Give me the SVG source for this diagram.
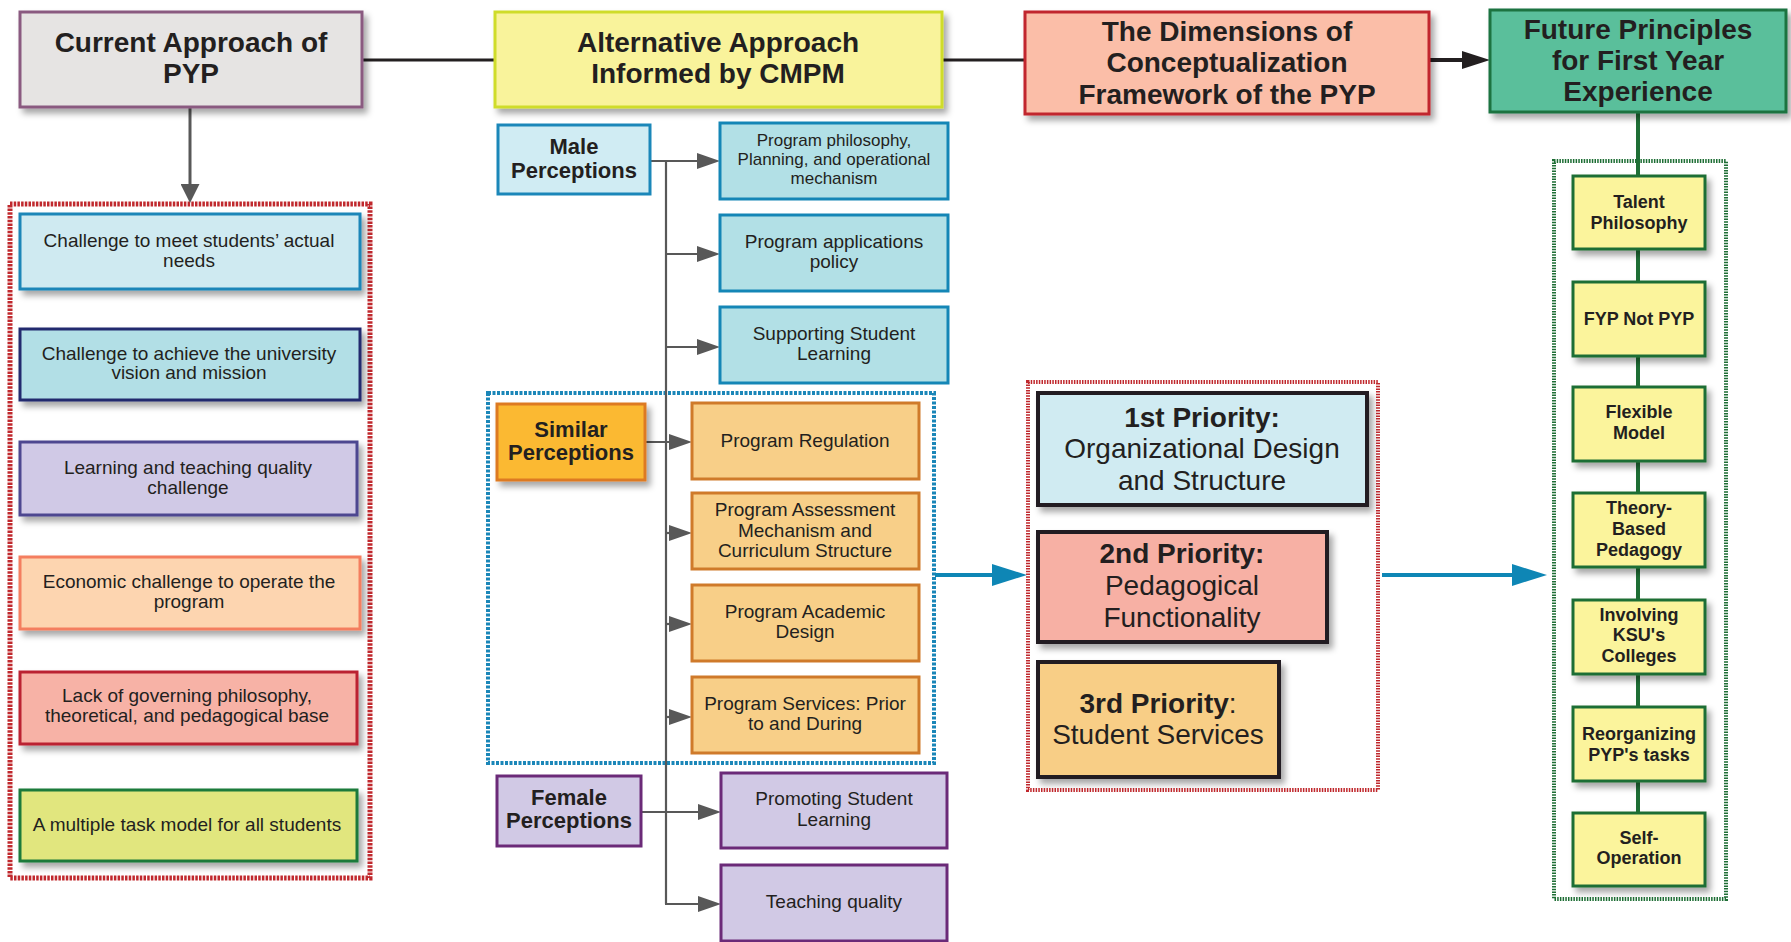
<svg xmlns="http://www.w3.org/2000/svg" width="1791" height="942" viewBox="0 0 1791 942">
<style>
text{font-family:"Liberation Sans",Arial,sans-serif;fill:#231f20;text-anchor:middle}
.t{font-size:28px;font-weight:bold}
.n{font-size:19px}
.s{font-size:17px}
.b{font-size:22px;font-weight:bold}
.r{font-size:18px;font-weight:bold}
.p{font-size:28px}
.box{stroke-width:3}
.pri{stroke:#231f20;stroke-width:4}
.gray{stroke:#585858;stroke-width:2.2;fill:none}
</style>
<defs>
<filter id="sh" x="-10%" y="-10%" width="130%" height="140%">
<feDropShadow dx="4" dy="5" stdDeviation="3" flood-color="#000" flood-opacity="0.35"/>
</filter>
<marker id="ag" markerUnits="userSpaceOnUse" markerWidth="23" markerHeight="16" refX="11" refY="8" orient="auto">
<path d="M0,0 L23,8 L0,16 z" fill="#585858"/>
</marker>
<marker id="ag2" markerUnits="userSpaceOnUse" markerWidth="19" markerHeight="19" refX="9" refY="9.5" orient="auto">
<path d="M0,0 L19,9.5 L0,19 z" fill="#585858"/>
</marker>
<marker id="ab" markerUnits="userSpaceOnUse" markerWidth="35" markerHeight="22" refX="18" refY="11" orient="auto">
<path d="M0,0 L35,11 L0,22 z" fill="#0e86b5"/>
</marker>
<marker id="ak" markerUnits="userSpaceOnUse" markerWidth="28" markerHeight="18" refX="14" refY="9" orient="auto">
<path d="M0,0 L28,9 L0,18 z" fill="#231f20"/>
</marker>
</defs>
<rect width="1791" height="942" fill="#fff"/>

<g id="containers" fill="none">
<rect x="10" y="204" width="360" height="674" stroke="#c0282d" stroke-width="5" stroke-dasharray="2.5 1.2"/>
<rect x="488" y="393" width="446" height="370" stroke="#1a86b8" stroke-width="4" stroke-dasharray="3 1.5"/>
<rect x="1028" y="382" width="350" height="408" stroke="#c0282d" stroke-width="4" stroke-dasharray="1.5 1.2"/>
<rect x="1554" y="161" width="172" height="738" stroke="#1e6e35" stroke-width="4" stroke-dasharray="1.5 1.2"/>
</g>

<g id="connectors">
<line x1="362" y1="60" x2="495" y2="60" stroke="#231f20" stroke-width="3"/>
<line x1="942" y1="60" x2="1025" y2="60" stroke="#231f20" stroke-width="3"/>
<line x1="1429" y1="60" x2="1476" y2="60" stroke="#231f20" stroke-width="4" marker-end="url(#ak)"/>
<line x1="190" y1="107" x2="190" y2="193" stroke="#585858" stroke-width="3" marker-end="url(#ag2)"/>
<line x1="1638" y1="112" x2="1638" y2="813" stroke="#1e6e35" stroke-width="4"/>
<path class="gray" d="M666,161 V904"/>
<line class="gray" x1="650" y1="161" x2="708" y2="161" marker-end="url(#ag)"/>
<line class="gray" x1="666" y1="254" x2="708" y2="254" marker-end="url(#ag)"/>
<line class="gray" x1="666" y1="347" x2="708" y2="347" marker-end="url(#ag)"/>
<line class="gray" x1="645" y1="442" x2="680" y2="442" marker-end="url(#ag)"/>
<line class="gray" x1="666" y1="533" x2="680" y2="533" marker-end="url(#ag)"/>
<line class="gray" x1="666" y1="624" x2="680" y2="624" marker-end="url(#ag)"/>
<line class="gray" x1="666" y1="717" x2="680" y2="717" marker-end="url(#ag)"/>
<line class="gray" x1="641" y1="812" x2="709" y2="812" marker-end="url(#ag)"/>
<line class="gray" x1="665" y1="904" x2="709" y2="904" marker-end="url(#ag)"/>
<line x1="935" y1="575" x2="1010" y2="575" stroke="#0e86b5" stroke-width="4" marker-end="url(#ab)"/>
<line x1="1382" y1="575" x2="1530" y2="575" stroke="#0e86b5" stroke-width="4" marker-end="url(#ab)"/>
</g>

<g id="current">
<rect class="box" x="20" y="12" width="342" height="95" fill="#e6e4e3" stroke="#8a5a80" filter="url(#sh)"/>
<text class="t" x="191" y="52">Current Approach of</text>
<text class="t" x="191" y="83">PYP</text>
</g>
<g id="alternative">
<rect class="box" x="495" y="12" width="447" height="95" fill="#f9f39b" stroke="#cfdc2a" filter="url(#sh)"/>
<text class="t" x="718" y="52">Alternative Approach</text>
<text class="t" x="718" y="83">Informed by CMPM</text>
</g>
<g id="dimensions">
<rect class="box" x="1025" y="12" width="404" height="102" fill="#fbbea8" stroke="#c1272d" filter="url(#sh)"/>
<text class="t" x="1227" y="41">The Dimensions of</text>
<text class="t" x="1227" y="72">Conceptualization</text>
<text class="t" x="1227" y="104">Framework of the PYP</text>
</g>
<g id="future">
<rect class="box" x="1490" y="10" width="296" height="102" fill="#5abf9b" stroke="#1d7340" filter="url(#sh)"/>
<text class="t" x="1638" y="39">Future Principles</text>
<text class="t" x="1638" y="70">for First Year</text>
<text class="t" x="1638" y="101">Experience</text>
</g>

<g id="challenge-needs">
<rect class="box" x="20" y="214" width="340" height="75" fill="#cfeaf1" stroke="#1a86b8" filter="url(#sh)"/>
<text class="n" x="189" y="247">Challenge to meet students’ actual</text>
<text class="n" x="189" y="267">needs</text>
</g>
<g id="challenge-vision">
<rect class="box" x="20" y="329" width="340" height="71" fill="#b2dfe6" stroke="#242a6e" filter="url(#sh)"/>
<text class="n" x="189" y="360">Challenge to achieve the university</text>
<text class="n" x="189" y="379">vision and mission</text>
</g>
<g id="learning-quality">
<rect class="box" x="20" y="442" width="337" height="73" fill="#d0c9e6" stroke="#4d4690" filter="url(#sh)"/>
<text class="n" x="188" y="474">Learning and teaching quality</text>
<text class="n" x="188" y="494">challenge</text>
</g>
<g id="economic">
<rect class="box" x="20" y="557" width="340" height="72" fill="#fdd5b0" stroke="#f47e5e" filter="url(#sh)"/>
<text class="n" x="189" y="588">Economic challenge to operate the</text>
<text class="n" x="189" y="608">program</text>
</g>
<g id="lack-philosophy">
<rect class="box" x="20" y="672" width="337" height="72" fill="#f7b2a6" stroke="#bb2030" filter="url(#sh)"/>
<text class="n" x="187" y="702">Lack of governing philosophy,</text>
<text class="n" x="187" y="722">theoretical, and pedagogical base</text>
</g>
<g id="multiple-task">
<rect class="box" x="20" y="790" width="337" height="71" fill="#e1e67e" stroke="#1d7a3a" filter="url(#sh)"/>
<text class="n" x="187" y="831">A multiple task model for all students</text>
</g>

<g id="male">
<rect class="box" x="498" y="125" width="152" height="69" fill="#d0ecf3" stroke="#1b87b9"/>
<text class="b" x="574" y="154">Male</text>
<text class="b" x="574" y="178">Perceptions</text>
</g>
<g id="male-philosophy">
<rect class="box" x="720" y="123" width="228" height="76" fill="#b2e0e6" stroke="#1486b6"/>
<text class="s" x="834" y="146">Program philosophy,</text>
<text class="s" x="834" y="165">Planning, and operational</text>
<text class="s" x="834" y="184">mechanism</text>
</g>
<g id="male-applications">
<rect class="box" x="720" y="215" width="228" height="76" fill="#b2e0e6" stroke="#1486b6"/>
<text class="n" x="834" y="248">Program applications</text>
<text class="n" x="834" y="268">policy</text>
</g>
<g id="male-supporting">
<rect class="box" x="720" y="307" width="228" height="76" fill="#b2e0e6" stroke="#1486b6"/>
<text class="n" x="834" y="340">Supporting Student</text>
<text class="n" x="834" y="360">Learning</text>
</g>

<g id="similar">
<rect class="box" x="497" y="404" width="148" height="76" fill="#fbb932" stroke="#dd7a22" filter="url(#sh)"/>
<text class="b" x="571" y="437">Similar</text>
<text class="b" x="571" y="460">Perceptions</text>
</g>
<g id="similar-regulation">
<rect class="box" x="692" y="403" width="227" height="76" fill="#f8cf88" stroke="#cf7a2a"/>
<text class="n" x="805" y="447">Program Regulation</text>
</g>
<g id="similar-assessment">
<rect class="box" x="692" y="493" width="227" height="76" fill="#f8cf88" stroke="#cf7a2a"/>
<text class="n" x="805" y="516">Program Assessment</text>
<text class="n" x="805" y="537">Mechanism and</text>
<text class="n" x="805" y="557">Curriculum Structure</text>
</g>
<g id="similar-academic">
<rect class="box" x="692" y="585" width="227" height="76" fill="#f8cf88" stroke="#cf7a2a"/>
<text class="n" x="805" y="618">Program Academic</text>
<text class="n" x="805" y="638">Design</text>
</g>
<g id="similar-services">
<rect class="box" x="692" y="677" width="227" height="76" fill="#f8cf88" stroke="#cf7a2a"/>
<text class="n" x="805" y="710">Program Services: Prior</text>
<text class="n" x="805" y="730">to and During</text>
</g>

<g id="female">
<rect class="box" x="497" y="776" width="144" height="70" fill="#d1c9e5" stroke="#6b2a78"/>
<text class="b" x="569" y="805">Female</text>
<text class="b" x="569" y="828">Perceptions</text>
</g>
<g id="female-promoting">
<rect class="box" x="721" y="773" width="226" height="75" fill="#d1c9e5" stroke="#6b2a78"/>
<text class="n" x="834" y="805">Promoting Student</text>
<text class="n" x="834" y="826">Learning</text>
</g>
<g id="female-teaching">
<rect class="box" x="721" y="865" width="226" height="76" fill="#d1c9e5" stroke="#6b2a78"/>
<text class="n" x="834" y="908">Teaching quality</text>
</g>

<g id="priority-1">
<rect class="pri" x="1038" y="393" width="329" height="112" fill="#d0ebf2" filter="url(#sh)"/>
<text class="t" x="1202" y="427">1st Priority:</text>
<text class="p" x="1202" y="458">Organizational Design</text>
<text class="p" x="1202" y="490">and Structure</text>
</g>
<g id="priority-2">
<rect class="pri" x="1038" y="532" width="289" height="110" fill="#f7b0a4" filter="url(#sh)"/>
<text class="t" x="1182" y="563">2nd Priority:</text>
<text class="p" x="1182" y="595">Pedagogical</text>
<text class="p" x="1182" y="627">Functionality</text>
</g>
<g id="priority-3">
<rect class="pri" x="1038" y="662" width="241" height="115" fill="#f8ce86" filter="url(#sh)"/>
<text class="t" x="1158" y="713">3rd Priority<tspan font-weight="normal">:</tspan></text>
<text class="p" x="1158" y="744">Student Services</text>
</g>

<g id="talent">
<rect class="box" x="1573" y="176" width="132" height="73" fill="#fbf49c" stroke="#1e6e35" filter="url(#sh)"/>
<text class="r" x="1639" y="208">Talent</text>
<text class="r" x="1639" y="229">Philosophy</text>
</g>
<g id="fyp">
<rect class="box" x="1573" y="282" width="132" height="74" fill="#fbf49c" stroke="#1e6e35" filter="url(#sh)"/>
<text class="r" x="1639" y="325">FYP Not PYP</text>
</g>
<g id="flexible">
<rect class="box" x="1573" y="387" width="132" height="74" fill="#fbf49c" stroke="#1e6e35" filter="url(#sh)"/>
<text class="r" x="1639" y="418">Flexible</text>
<text class="r" x="1639" y="439">Model</text>
</g>
<g id="theory">
<rect class="box" x="1573" y="493" width="132" height="74" fill="#fbf49c" stroke="#1e6e35" filter="url(#sh)"/>
<text class="r" x="1639" y="514">Theory-</text>
<text class="r" x="1639" y="535">Based</text>
<text class="r" x="1639" y="556">Pedagogy</text>
</g>
<g id="involving">
<rect class="box" x="1573" y="600" width="132" height="74" fill="#fbf49c" stroke="#1e6e35" filter="url(#sh)"/>
<text class="r" x="1639" y="621">Involving</text>
<text class="r" x="1639" y="641">KSU's</text>
<text class="r" x="1639" y="662">Colleges</text>
</g>
<g id="reorganizing">
<rect class="box" x="1573" y="707" width="132" height="74" fill="#fbf49c" stroke="#1e6e35" filter="url(#sh)"/>
<text class="r" x="1639" y="740">Reorganizing</text>
<text class="r" x="1639" y="761">PYP's tasks</text>
</g>
<g id="self-operation">
<rect class="box" x="1573" y="813" width="132" height="73" fill="#fbf49c" stroke="#1e6e35" filter="url(#sh)"/>
<text class="r" x="1639" y="844">Self-</text>
<text class="r" x="1639" y="864">Operation</text>
</g>
</svg>
